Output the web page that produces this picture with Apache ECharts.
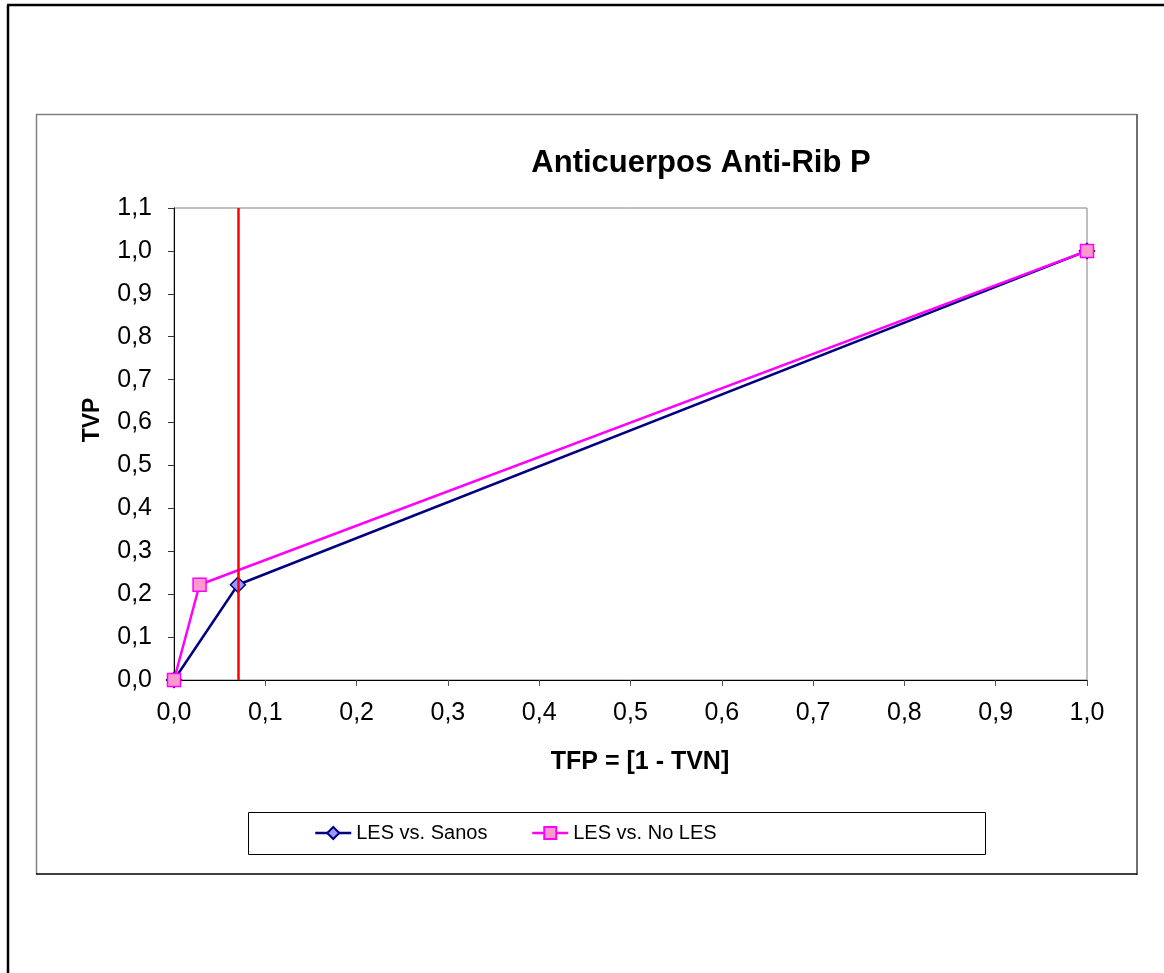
<!DOCTYPE html>
<html>
<head>
<meta charset="utf-8">
<script src="https://cdn.jsdelivr.net/npm/echarts@6/dist/echarts.min.js"></script>
<style>
html,body{margin:0;padding:0;background:#fff;}
#chart{width:1164px;height:973px;}
</style>
</head>
<body>
<div id="chart"></div>
<script>
const titleText = 'Anticuerpos Anti-Rib P';
const xAxisTitle = 'TFP = [1 - TVN]';
const yAxisTitle = 'TVP';
const seriesNames = ['LES vs. Sanos', 'LES vs. No LES'];
const tfpSanos = [0, 0.07, 1];
const tvpSanos = [0, 0.222, 1];
const tfpNoLes = [0, 0.028, 1];
const tvpNoLes = [0, 0.222, 1];
const cutoffX = 0.07;

const FONT = '"Liberation Sans", Arial, sans-serif';
const chart = echarts.init(document.getElementById('chart'), null, {renderer: 'canvas'});
const fmt = v => v.toFixed(1).replace('.', ',');

const legendCommon = {top: 821, padding: 0, itemWidth: 36, itemHeight: 15, itemGap: 0,
  lineStyle: {width: 2.5},
  textStyle: {fontSize: 20, color: '#000', fontFamily: FONT, lineHeight: 24}};

const option = {
  backgroundColor: '#fff',
  animation: false,
  textStyle: {fontFamily: FONT},
  grid: {left: 174, top: 208, width: 913, height: 472, show: true, borderColor: '#808080', borderWidth: 1, backgroundColor: '#fff'},
  xAxis: {
    type: 'value', min: 0, max: 1, interval: 0.1,
    splitLine: {show: false},
    axisLine: {onZero: false, lineStyle: {color: '#000', width: 1}},
    axisTick: {show: true, length: 6, lineStyle: {color: '#555'}},
    axisLabel: {formatter: fmt, color: '#000', fontSize: 25, fontFamily: FONT, margin: 21}
  },
  yAxis: {
    type: 'value', min: 0, max: 1.1, interval: 0.1,
    splitLine: {show: false},
    axisLine: {show: true, onZero: false, lineStyle: {color: '#000', width: 1}},
    axisTick: {show: true, length: 6, lineStyle: {color: '#333'}},
    axisLabel: {formatter: fmt, color: '#000', fontSize: 25, fontFamily: FONT, margin: 22}
  },
  legend: [
    Object.assign({data: [seriesNames[0]], left: 314}, legendCommon),
    Object.assign({data: [seriesNames[1]], left: 531}, legendCommon)
  ],
  series: [
    {
      name: seriesNames[0], type: 'line',
      data: tfpSanos.map((x, i) => [x, tvpSanos[i]]),
      symbol: 'diamond', symbolSize: 15,
      lineStyle: {color: '#000080', width: 2.5},
      itemStyle: {color: '#9999FF', borderColor: '#000080', borderWidth: 1.5},
      z: 3,
      markLine: {
        silent: true, symbol: 'none', label: {show: false},
        lineStyle: {color: '#FF0000', width: 2.5, type: 'solid'},
        data: [{xAxis: cutoffX}]
      }
    },
    {
      name: seriesNames[1], type: 'line',
      data: tfpNoLes.map((x, i) => [x, tvpNoLes[i]]),
      symbol: 'rect', symbolSize: 13,
      lineStyle: {color: '#FF00FF', width: 2.5},
      itemStyle: {color: '#FF99CC', borderColor: '#FF00FF', borderWidth: 1.5},
      z: 4
    }
  ],
  graphic: [
    {type: 'line', shape: {x1: 8, y1: 5, x2: 8, y2: 973}, style: {stroke: '#000', lineWidth: 2.5}},
    {type: 'line', shape: {x1: 7, y1: 5, x2: 1164, y2: 5}, style: {stroke: '#000', lineWidth: 2.5}},
    {type: 'line', shape: {x1: 36.5, y1: 114, x2: 36.5, y2: 874}, style: {stroke: '#808080', lineWidth: 1.5}},
    {type: 'line', shape: {x1: 36, y1: 114.5, x2: 1137, y2: 114.5}, style: {stroke: '#808080', lineWidth: 1.5}},
    {type: 'line', shape: {x1: 1137, y1: 114, x2: 1137, y2: 875}, style: {stroke: '#707070', lineWidth: 2}},
    {type: 'line', shape: {x1: 36, y1: 874, x2: 1137, y2: 874}, style: {stroke: '#000', lineWidth: 1.5}},
    {type: 'rect', shape: {x: 248.5, y: 812.5, width: 737, height: 42}, style: {fill: 'none', stroke: '#000', lineWidth: 1}, z: -1},
    {type: 'text', x: 701, y: 163, style: {text: titleText, font: 'bold 31px ' + FONT, fill: '#000', textAlign: 'center', textVerticalAlign: 'middle'}},
    {type: 'text', x: 640, y: 762, style: {text: xAxisTitle, font: 'bold 25px ' + FONT, fill: '#000', textAlign: 'center', textVerticalAlign: 'middle'}},
    {type: 'text', x: 93, y: 420, rotation: Math.PI / 2, style: {text: yAxisTitle, font: 'bold 23px ' + FONT, fill: '#000', textAlign: 'center', textVerticalAlign: 'middle'}}
  ]
};
chart.setOption(option);
</script>
</body>
</html>
